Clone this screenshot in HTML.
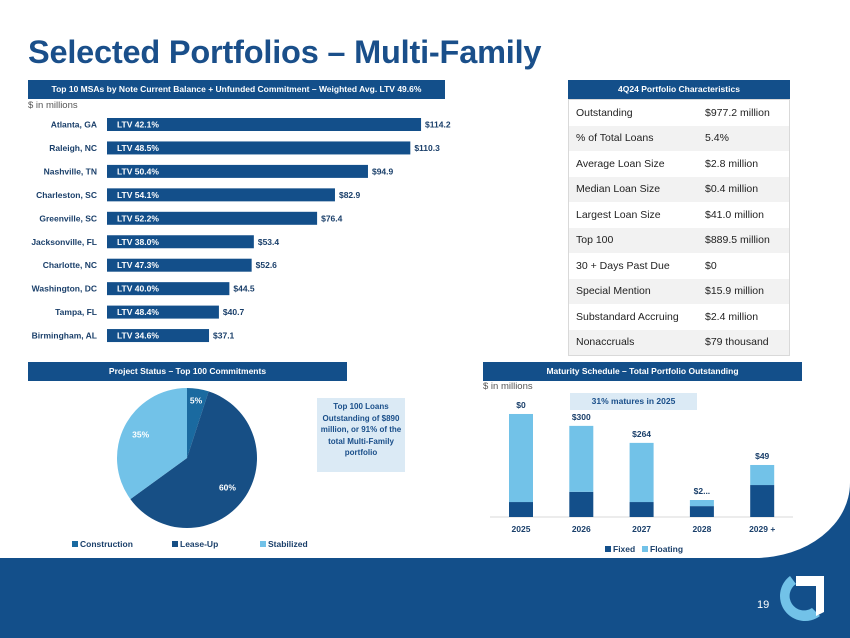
<!DOCTYPE html>
<html><head><meta charset="utf-8">
<style>
body{margin:0;width:850px;height:638px;overflow:hidden;background:#134f8a;font-family:"Liberation Sans",sans-serif;position:relative}
.white{position:absolute;left:0;top:0;width:850px;height:558px;background:#fff;border-bottom-right-radius:95px 75px}
.abs{position:absolute}
.hdr{position:absolute;background:#134f8a;color:#fff;font-weight:bold;font-size:8.5px;text-align:center;line-height:19px;height:19px}
.sub{position:absolute;font-size:9.5px;color:#555}
table{border-collapse:collapse}
td{font-size:10.5px;color:#222;height:25.5px;padding:0 0 0 7px}
</style></head><body>
<div class="white"></div>
<div class="abs" style="left:28px;top:34px;font-size:32.5px;font-weight:bold;color:#1a4f8a;letter-spacing:-0.2px">Selected Portfolios – Multi-Family</div>

<div class="hdr" style="left:28px;top:80px;width:417px">Top 10 MSAs by Note Current Balance + Unfunded Commitment – Weighted Avg. LTV 49.6%</div>
<div class="sub" style="left:28px;top:100px">$ in millions</div>
<svg id="msa" class="abs" style="left:0;top:0" width="460" height="360"></svg>

<div class="hdr" style="left:568px;top:80px;width:222px">4Q24 Portfolio Characteristics</div>
<table class="abs" style="left:568px;top:99px;width:222px;border:1px solid #d9d9d9">
<tr style="background:#fff"><td style="width:122px">Outstanding</td><td>$977.2 million</td></tr>
<tr style="background:#f2f2f2"><td>% of Total Loans</td><td>5.4%</td></tr>
<tr style="background:#fff"><td>Average Loan Size</td><td>$2.8 million</td></tr>
<tr style="background:#f2f2f2"><td>Median Loan Size</td><td>$0.4 million</td></tr>
<tr style="background:#fff"><td>Largest Loan Size</td><td>$41.0 million</td></tr>
<tr style="background:#f2f2f2"><td>Top 100</td><td>$889.5 million</td></tr>
<tr style="background:#fff"><td>30 + Days Past Due</td><td>$0</td></tr>
<tr style="background:#f2f2f2"><td>Special Mention</td><td>$15.9 million</td></tr>
<tr style="background:#fff"><td>Substandard Accruing</td><td>$2.4 million</td></tr>
<tr style="background:#f2f2f2"><td>Nonaccruals</td><td>$79 thousand</td></tr>
</table>

<div class="hdr" style="left:28px;top:362px;width:319px">Project Status – Top 100 Commitments</div>
<svg id="pie" class="abs" style="left:0;top:380px" width="420" height="180"></svg>
<div class="abs" style="left:317px;top:398px;width:88px;height:74px;background:#dbeaf5;color:#1a4f8a;font-size:8px;font-weight:bold;text-align:center;line-height:11.5px;padding-top:3px;box-sizing:border-box">Top 100 Loans Outstanding of $890 million, or 91% of the total Multi-Family portfolio</div>

<div class="hdr" style="left:483px;top:362px;width:319px">Maturity Schedule – Total Portfolio Outstanding</div>
<div class="sub" style="left:483px;top:381px">$ in millions</div>
<div class="abs" style="left:570px;top:393px;width:127px;height:17px;background:#dbeaf5;color:#1a4f8a;font-size:8.5px;font-weight:bold;text-align:center;line-height:17px">31% matures in 2025</div>
<svg id="mat" class="abs" style="left:480px;top:380px" width="340" height="180"></svg>

<div class="abs" style="left:757px;top:599px;color:#fff;font-size:11px">19</div>
<svg class="abs" style="left:776px;top:572px" width="52" height="52">
<path d="M14 4 A24 24 0 1 0 44 44 L36 36 A14 14 0 1 1 20 12 Z" fill="#72c2e8"/>
<path d="M20 4 L48 4 L48 40 L40 44 L40 14 L20 14 Z" fill="#fff"/>
</svg>

<script>
const NS="http://www.w3.org/2000/svg";
function mk(p,t,a){const e=document.createElementNS(NS,t);for(const k in a)e.setAttribute(k,a[k]);p.appendChild(e);return e;}

// MSA chart
const msaCities=["Atlanta, GA","Raleigh, NC","Nashville, TN","Charleston, SC","Greenville, SC","Jacksonville, FL","Charlotte, NC","Washington, DC","Tampa, FL","Birmingham, AL"];
const msaValues=[114.2,110.3,94.9,82.9,76.4,53.4,52.6,44.5,40.7,37.1];
const msaLtv=["42.1%","48.5%","50.4%","54.1%","52.2%","38.0%","47.3%","40.0%","48.4%","34.6%"];
const msa=document.getElementById('msa');
const mx=v=>107+v*2.75, my=i=>118+i*23.45;
msaCities.forEach((c,i)=>{
  const r=mk(msa,'rect',{x:107,y:my(i),width:mx(msaValues[i])-107,height:13,fill:'#134f8a'});
  
  
  const t=mk(msa,'text',{x:97,y:my(i)+9.5,'text-anchor':'end','font-size':'8.5','font-weight':'bold',fill:'#1a3f6a'});t.textContent=c;
  
  
  const l=mk(msa,'text',{x:117,y:my(i)+9.5,'font-size':'8.5','font-weight':'bold',fill:'#fff'});l.textContent="LTV "+msaLtv[i];
  
  
  const v=mk(msa,'text',{x:mx(msaValues[i])+4,y:my(i)+9.5,'font-size':'8.5','font-weight':'bold',fill:'#1a3f6a'});v.textContent="$"+msaValues[i].toFixed(1);
  
  
});

// Pie
const pieCats=["Construction","Lease-Up","Stabilized"];
const pieVals=[5,60,35];
const pieColors=["#1a6aa0","#174f85","#72c2e8"];
const pie=document.getElementById('pie');
const cx=187,cy=78,R=70;let a0=0;
pieVals.forEach((v,i)=>{
  const a1=a0+v/100*2*Math.PI;
  const p=(a)=>[cx+R*Math.sin(a),cy-R*Math.cos(a)];
  const [x0,y0]=p(a0),[x1,y1]=p(a1);
  const s=mk(pie,'path',{d:`M${cx} ${cy} L${x0} ${y0} A${R} ${R} 0 ${a1-a0>Math.PI?1:0} 1 ${x1} ${y1} Z`,fill:pieColors[i]});
  
  
  const m=(a0+a1)/2, rr=i==0?58:i==1?50:52;
  const t=mk(pie,'text',{x:cx+rr*Math.sin(m),y:cy-rr*Math.cos(m)+3,'text-anchor':'middle','font-size':'8.5','font-weight':'bold',fill:'#fff'});t.textContent=v+"%";
  
  
  const lx=[72,172,260][i];
  const sq=mk(pie,'rect',{x:lx,y:161,width:6,height:6,fill:pieColors[i]});
  
  
  const lt=mk(pie,'text',{x:lx+8,y:167,'font-size':'8.5','font-weight':'bold',fill:'#1a3f6a'});lt.textContent=pieCats[i];
  
  
  a0=a1;
});

// Maturity
const matYears=["2025","2026","2027","2028","2029 +"];
const matFixed=[44,74,44,32,94];
const matFloating=[259,194,174,18,59];
const matLabels=["$0","$300","$264","$2...","$49"];
const mat=document.getElementById('mat');
const base=137, sc=0.34, bx=i=>29+i*60.3;
mk(mat,'line',{x1:10,x2:313,y1:base,y2:base,stroke:'#d9d9d9','stroke-width':1});
matYears.forEach((y,i)=>{
  const hf=matFixed[i]*sc, hl=matFloating[i]*sc;
  const f=mk(mat,'rect',{x:bx(i),y:base-hf,width:24,height:hf,fill:'#134f8a'});
  
  
  const fl=mk(mat,'rect',{x:bx(i),y:base-hf-hl,width:24,height:hl,fill:'#72c2e8'});
  
  
  const t=mk(mat,'text',{x:bx(i)+12,y:base-hf-hl-6,'text-anchor':'middle','font-size':'8.5','font-weight':'bold',fill:'#1a3f6a'});t.textContent=matLabels[i];
  
  
  const x=mk(mat,'text',{x:bx(i)+12,y:base+15,'text-anchor':'middle','font-size':'8.5','font-weight':'bold',fill:'#1a3f6a'});x.textContent=y;
  
  
});
[["Fixed","#134f8a",125],["Floating","#72c2e8",162]].forEach(([n,c,x])=>{
  const s=mk(mat,'rect',{x:x,y:166,width:6,height:6,fill:c});
  
  
  const t=mk(mat,'text',{x:x+8,y:172,'font-size':'8.5','font-weight':'bold',fill:'#1a3f6a'});t.textContent=n;
  
  
});
</script>
</body></html>
